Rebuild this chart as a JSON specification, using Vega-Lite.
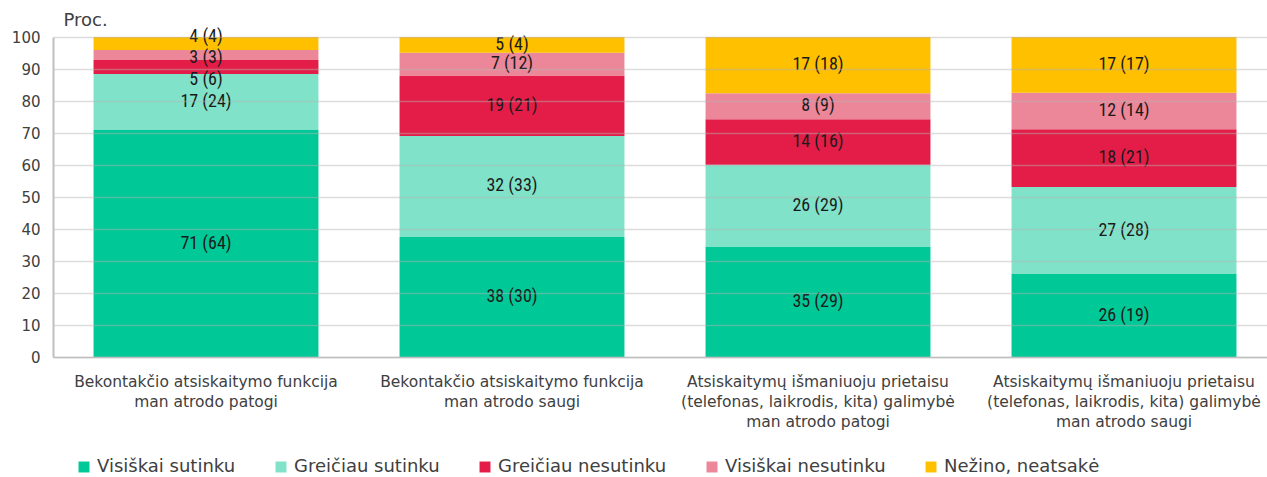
{
  "$schema": "https://vega.github.io/schema/vega-lite/v6.json",
  "width": 1224,
  "height": 320,
  "autosize": "none",
  "padding": {"left": 53, "top": 37, "right": 0, "bottom": 120},
  "background": "white",
  "data": {
    "values": [
      {"q": "Bekontakčio atsiskaitymo funkcija|man atrodo patogi", "cat": "Visiškai sutinku", "value": 70.9, "label": "71 (64)"},
      {"q": "Bekontakčio atsiskaitymo funkcija|man atrodo patogi", "cat": "Greičiau sutinku", "value": 17.5, "label": "17 (24)"},
      {"q": "Bekontakčio atsiskaitymo funkcija|man atrodo patogi", "cat": "Greičiau nesutinku", "value": 4.4, "label": "5 (6)"},
      {"q": "Bekontakčio atsiskaitymo funkcija|man atrodo patogi", "cat": "Visiškai nesutinku", "value": 3.1, "label": "3 (3)"},
      {"q": "Bekontakčio atsiskaitymo funkcija|man atrodo patogi", "cat": "Nežino, neatsakė", "value": 4.1, "label": "4 (4)"},
      {"q": "Bekontakčio atsiskaitymo funkcija|man atrodo saugi", "cat": "Visiškai sutinku", "value": 37.5, "label": "38 (30)"},
      {"q": "Bekontakčio atsiskaitymo funkcija|man atrodo saugi", "cat": "Greičiau sutinku", "value": 31.6, "label": "32 (33)"},
      {"q": "Bekontakčio atsiskaitymo funkcija|man atrodo saugi", "cat": "Greičiau nesutinku", "value": 18.9, "label": "19 (21)"},
      {"q": "Bekontakčio atsiskaitymo funkcija|man atrodo saugi", "cat": "Visiškai nesutinku", "value": 7.1, "label": "7 (12)"},
      {"q": "Bekontakčio atsiskaitymo funkcija|man atrodo saugi", "cat": "Nežino, neatsakė", "value": 4.9, "label": "5 (4)"},
      {"q": "Atsiskaitymų išmaniuoju prietaisu|(telefonas, laikrodis, kita) galimybė|man atrodo patogi", "cat": "Visiškai sutinku", "value": 34.4, "label": "35 (29)"},
      {"q": "Atsiskaitymų išmaniuoju prietaisu|(telefonas, laikrodis, kita) galimybė|man atrodo patogi", "cat": "Greičiau sutinku", "value": 25.7, "label": "26 (29)"},
      {"q": "Atsiskaitymų išmaniuoju prietaisu|(telefonas, laikrodis, kita) galimybė|man atrodo patogi", "cat": "Greičiau nesutinku", "value": 14.2, "label": "14 (16)"},
      {"q": "Atsiskaitymų išmaniuoju prietaisu|(telefonas, laikrodis, kita) galimybė|man atrodo patogi", "cat": "Visiškai nesutinku", "value": 8.1, "label": "8 (9)"},
      {"q": "Atsiskaitymų išmaniuoju prietaisu|(telefonas, laikrodis, kita) galimybė|man atrodo patogi", "cat": "Nežino, neatsakė", "value": 17.6, "label": "17 (18)"},
      {"q": "Atsiskaitymų išmaniuoju prietaisu|(telefonas, laikrodis, kita) galimybė|man atrodo saugi", "cat": "Visiškai sutinku", "value": 25.9, "label": "26 (19)"},
      {"q": "Atsiskaitymų išmaniuoju prietaisu|(telefonas, laikrodis, kita) galimybė|man atrodo saugi", "cat": "Greičiau sutinku", "value": 27.2, "label": "27 (28)"},
      {"q": "Atsiskaitymų išmaniuoju prietaisu|(telefonas, laikrodis, kita) galimybė|man atrodo saugi", "cat": "Greičiau nesutinku", "value": 18.1, "label": "18 (21)"},
      {"q": "Atsiskaitymų išmaniuoju prietaisu|(telefonas, laikrodis, kita) galimybė|man atrodo saugi", "cat": "Visiškai nesutinku", "value": 11.4, "label": "12 (14)"},
      {"q": "Atsiskaitymų išmaniuoju prietaisu|(telefonas, laikrodis, kita) galimybė|man atrodo saugi", "cat": "Nežino, neatsakė", "value": 17.4, "label": "17 (17)"}
    ]
  },
  "transform": [
    {"stack": "value", "groupby": ["q"], "as": ["y0", "y1"]},
    {"calculate": "(datum.y0 + datum.y1) / 2", "as": "ymid"}
  ],
  "encoding": {
    "x": {
      "field": "q",
      "type": "nominal",
      "sort": null,
      "scale": {"paddingInner": 0.265, "paddingOuter": 0.1325},
      "axis": {
        "title": null,
        "labelAngle": 0,
        "labelExpr": "split(datum.value, '|')",
        "labelFont": "DejaVu Sans",
        "labelFontSize": 15.5,
        "labelColor": "#404040",
        "labelLineHeight": 20,
        "labelPadding": 17,
        "labelLimit": 600,
        "ticks": false,
        "domainColor": "#bfbfbf",
        "domainWidth": 1.5,
        "zindex": 1
      }
    }
  },
  "layer": [
    {
      "mark": {"type": "bar"},
      "encoding": {
        "y": {
          "field": "y0",
          "type": "quantitative",
          "scale": {"domain": [0, 100]},
          "axis": {
            "title": "Proc.",
            "titleAngle": 0,
            "titleAnchor": "end",
            "titleAlign": "left",
            "titleBaseline": "alphabetic",
            "titleX": 10,
            "titleY": -12,
            "titleFont": "DejaVu Sans",
            "titleFontSize": 18,
            "titleFontWeight": "normal",
            "titleColor": "#404040",
            "grid": true,
            "zindex": 1
          }
        },
        "y2": {"field": "y1"},
        "color": {
          "field": "cat",
          "type": "nominal",
          "scale": {
            "domain": ["Visiškai sutinku", "Greičiau sutinku", "Greičiau nesutinku", "Visiškai nesutinku", "Nežino, neatsakė"],
            "range": ["#00C896", "#80E3C9", "#E31D48", "#EC8799", "#FFC000"]
          },
          "legend": {
            "title": null,
            "orient": "none",
            "direction": "horizontal",
            "legendX": 22,
            "legendY": 421,
            "symbolType": "square",
            "symbolSize": 120,
            "symbolStrokeWidth": 0,
            "labelFont": "DejaVu Sans",
            "labelFontSize": 18,
            "labelColor": "#404040",
            "labelOffset": 4,
            "labelLimit": 300,
            "columnPadding": 36
          }
        }
      }
    },
    {
      "transform": [{"filter": "!(indexof(datum.q, 'patogi') > 0 && indexof(datum.q, 'Bekontak') == 0 && datum.cat != 'Visiškai sutinku' && datum.cat != 'Greičiau sutinku')"}],
      "mark": {
        "type": "text",
        "font": "Liberation Sans Narrow, Arial Narrow, Roboto Condensed, Liberation Sans",
        "fontSize": 18,
        "color": "#1a1a1a",
        "baseline": "middle"
      },
      "encoding": {
        "y": {"field": "ymid", "type": "quantitative"},
        "text": {"field": "label"}
      }
    },
    {
      "transform": [{"filter": "indexof(datum.q, 'patogi') > 0 && indexof(datum.q, 'Bekontak') == 0 && datum.cat == 'Nežino, neatsakė'"}],
      "mark": {
        "type": "text",
        "font": "Liberation Sans Narrow, Arial Narrow, Roboto Condensed, Liberation Sans",
        "fontSize": 18,
        "color": "#1a1a1a",
        "baseline": "middle",
        "dy": -7
      },
      "encoding": {
        "y": {"field": "ymid", "type": "quantitative"},
        "text": {"field": "label"}
      }
    },
    {
      "transform": [{"filter": "indexof(datum.q, 'patogi') > 0 && indexof(datum.q, 'Bekontak') == 0 && datum.cat == 'Visiškai nesutinku'"}],
      "mark": {
        "type": "text",
        "font": "Liberation Sans Narrow, Arial Narrow, Roboto Condensed, Liberation Sans",
        "fontSize": 18,
        "color": "#1a1a1a",
        "baseline": "middle",
        "dy": 3
      },
      "encoding": {
        "y": {"field": "ymid", "type": "quantitative"},
        "text": {"field": "label"}
      }
    },
    {
      "transform": [{"filter": "indexof(datum.q, 'patogi') > 0 && indexof(datum.q, 'Bekontak') == 0 && datum.cat == 'Greičiau nesutinku'"}],
      "mark": {
        "type": "text",
        "font": "Liberation Sans Narrow, Arial Narrow, Roboto Condensed, Liberation Sans",
        "fontSize": 18,
        "color": "#1a1a1a",
        "baseline": "middle",
        "dy": 13
      },
      "encoding": {
        "y": {"field": "ymid", "type": "quantitative"},
        "text": {"field": "label"}
      }
    }
  ],
  "config": {
    "view": {"stroke": null},
    "axisY": {
      "tickCount": 10,
      "labelOverlap": false,
      "labelFont": "DejaVu Sans",
      "labelFontSize": 15,
      "labelColor": "#404040",
      "labelPadding": 13,
      "ticks": false,
      "domainColor": "#bfbfbf",
      "domainWidth": 2,
      "gridColor": "#b4b4b4",
      "gridOpacity": 0.45,
      "gridWidth": 1.5,
      "zindex": 1
    }
  }
}
